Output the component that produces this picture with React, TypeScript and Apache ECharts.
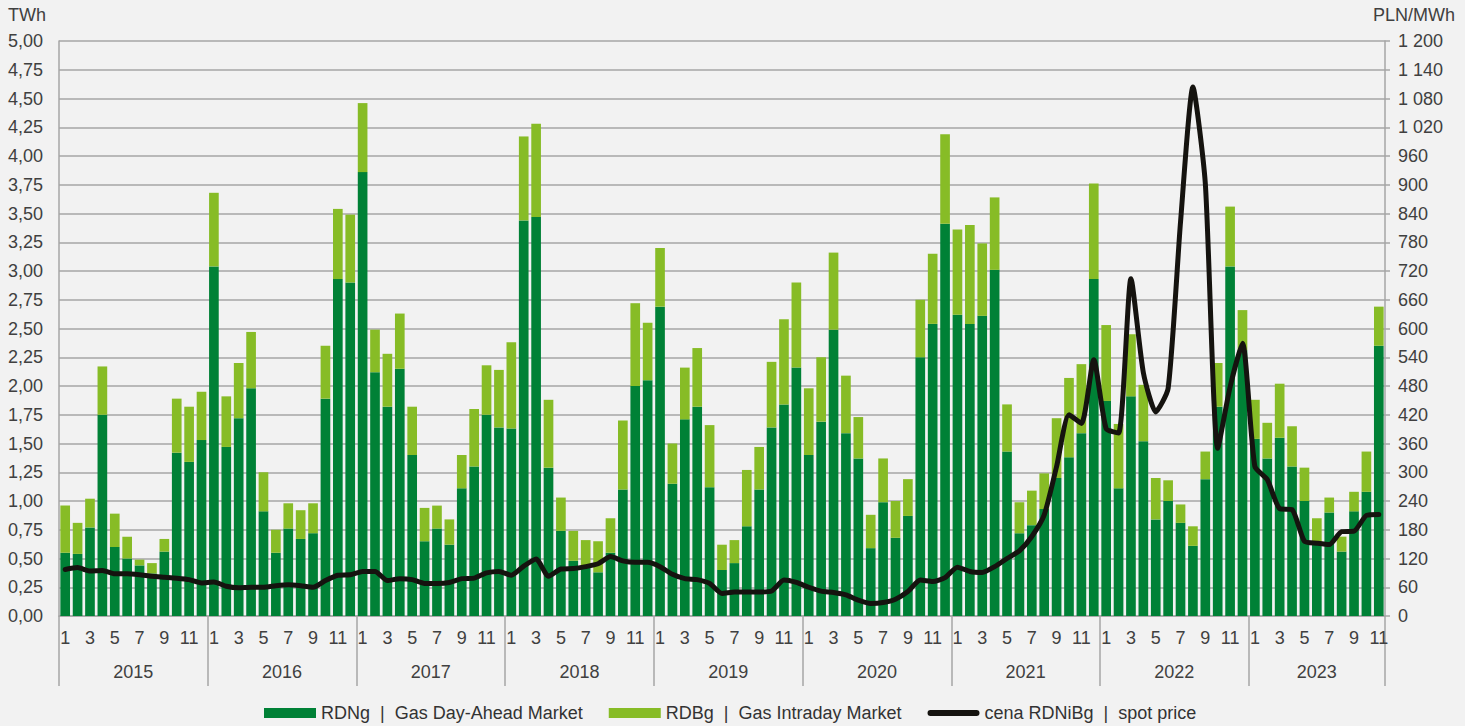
import React, { useEffect, useRef } from 'react';
import * as echarts from 'echarts';

const years = ['2015', '2016', '2017', '2018', '2019', '2020', '2021', '2022', '2023'];
const monthsPerYear = [12, 12, 12, 12, 12, 12, 12, 12, 11];

// RDNg | Gas Day-Ahead Market (TWh)
const rdng = [
  0.55, 0.54, 0.77, 1.75, 0.60, 0.50, 0.44, 0.37, 0.56, 1.42, 1.34, 1.53,
  3.04, 1.47, 1.72, 1.98, 0.91, 0.55, 0.76, 0.67, 0.72, 1.89, 2.93, 2.90,
  3.86, 2.12, 1.82, 2.15, 1.40, 0.65, 0.76, 0.62, 1.11, 1.30, 1.75, 1.64,
  1.63, 3.44, 3.47, 1.29, 0.74, 0.48, 0.43, 0.38, 0.55, 1.10, 2.00, 2.05,
  2.69, 1.15, 1.71, 1.82, 1.12, 0.40, 0.46, 0.78, 1.10, 1.64, 1.84, 2.16,
  1.40, 1.69, 2.49, 1.59, 1.37, 0.59, 0.99, 0.68, 0.87, 2.25, 2.54, 3.41,
  2.62, 2.54, 2.61, 3.01, 1.43, 0.72, 0.79, 0.93, 1.20, 1.38, 1.59, 2.93,
  1.87, 1.11, 1.91, 1.52, 0.84, 1.00, 0.81, 0.61, 1.19, 1.82, 3.04, 2.31,
  1.54, 1.37, 1.55, 1.30, 1.00, 0.62, 0.90, 0.56, 0.91, 1.08, 2.35,
];

// RDBg | Gas Intraday Market (TWh)
const rdbg = [
  0.41, 0.27, 0.25, 0.42, 0.29, 0.19, 0.05, 0.09, 0.11, 0.47, 0.48, 0.42,
  0.64, 0.44, 0.48, 0.49, 0.34, 0.20, 0.22, 0.25, 0.26, 0.46, 0.61, 0.59,
  0.60, 0.37, 0.46, 0.48, 0.42, 0.29, 0.20, 0.22, 0.29, 0.50, 0.43, 0.50,
  0.75, 0.73, 0.81, 0.59, 0.29, 0.26, 0.23, 0.27, 0.30, 0.60, 0.72, 0.50,
  0.51, 0.35, 0.45, 0.51, 0.54, 0.22, 0.20, 0.49, 0.37, 0.57, 0.74, 0.74,
  0.58, 0.56, 0.67, 0.50, 0.36, 0.29, 0.38, 0.32, 0.32, 0.50, 0.61, 0.78,
  0.74, 0.86, 0.63, 0.63, 0.41, 0.27, 0.30, 0.31, 0.52, 0.69, 0.60, 0.83,
  0.66, 0.56, 0.54, 0.49, 0.36, 0.18, 0.16, 0.17, 0.24, 0.38, 0.52, 0.35,
  0.34, 0.31, 0.47, 0.35, 0.29, 0.23, 0.13, 0.13, 0.17, 0.35, 0.34,
];

// cena RDNiBg | spot price (PLN/MWh)
const spotPrice = [
  97, 101, 94, 95, 88, 88, 86, 83, 81, 79, 76, 69,
  71, 62, 59, 60, 60, 63, 65, 63, 60, 74, 85, 86,
  93, 93, 74, 78, 76, 68, 68, 70, 78, 79, 90, 93,
  85, 104, 119, 83, 98, 99, 103, 109, 124, 115, 112, 112,
  103, 87, 78, 76, 68, 47, 50, 50, 50, 52, 75, 70,
  60, 52, 49, 44, 33, 26, 28, 35, 51, 75, 72, 80,
  102, 93, 91, 103, 120, 136, 166, 211, 312, 420, 402, 535,
  391, 382, 704, 508, 426, 475, 822, 1104, 903, 350, 478, 569,
  312, 285, 224, 222, 156, 152, 149, 176, 177, 210, 212,
];

const seriesNames = [
  'RDNg  |  Gas Day-Ahead Market',
  'RDBg  |  Gas Intraday Market',
  'cena RDNiBg  |  spot price',
];

const leftUnit = 'TWh';
const rightUnit = 'PLN/MWh';

const FONT = '"Liberation Sans", Arial, sans-serif';
const TEXT = '#404040';
const GRID = '#a6a6a6';
const LINE = '#15130f';

export default function App() {
  const ref = useRef<HTMLDivElement>(null);

  useEffect(() => {
    if (!ref.current) return;
    const chart = echarts.init(ref.current, undefined, { renderer: 'svg' });

    const categories: string[] = [];
    const boundaries: number[] = [0];
    const centers: number[] = [];
    let acc = 0;
    years.forEach((y, yi) => {
      for (let m = 1; m <= monthsPerYear[yi]; m++) categories.push(`${y}-${m}`);
      centers.push(acc + monthsPerYear[yi] / 2);
      acc += monthsPerYear[yi];
      boundaries.push(acc);
    });
    const total = acc;

    const yearOf = (v: number) => {
      for (let i = 0; i < years.length; i++) {
        if (v >= boundaries[i] && v <= boundaries[i + 1]) return years[i];
      }
      return '';
    };

    const fmtRight = (v: number) =>
      v >= 1000 ? `${Math.floor(v / 1000)} ${String(v % 1000).padStart(3, '0')}` : String(v);

    chart.setOption({
      animation: false,
      backgroundColor: '#f2f2f2',
      textStyle: { fontFamily: FONT },
      grid: { left: 59, right: 80, top: 41, bottom: 110, containLabel: false },
      legend: {
        top: 699,
        left: 259,
        itemWidth: 52,
        itemHeight: 10,
        itemGap: 26,
        symbolKeepAspect: true,
        textStyle: { fontFamily: FONT, fontSize: 18, color: '#333333' },
        data: [
          { name: seriesNames[0], icon: 'rect' },
          { name: seriesNames[1], icon: 'rect' },
          {
            name: seriesNames[2],
            icon: 'path://M3,0 L49,0 A3,3 0 0 1 49,6 L3,6 A3,3 0 0 1 3,0 Z',
            itemStyle: { color: LINE },
          },
        ],
      },
      graphic: [
        {
          type: 'text',
          left: 8,
          top: 6,
          style: { text: leftUnit, fontFamily: FONT, fontSize: 18, fill: TEXT },
        },
        {
          type: 'text',
          right: 10,
          top: 6,
          style: { text: rightUnit, fontFamily: FONT, fontSize: 18, fill: TEXT },
        },
      ],
      xAxis: [
        {
          type: 'category',
          data: categories,
          position: 'bottom',
          axisLine: { show: true, lineStyle: { color: GRID, width: 1.5 } },
          axisTick: { show: false },
          axisLabel: {
            interval: (idx: number) => idx % 2 === 0,
            formatter: (v: string) => v.split('-')[1],
            fontFamily: FONT,
            fontSize: 18,
            color: TEXT,
            margin: 13,
          },
          splitLine: { show: false },
        },
        {
          type: 'value',
          position: 'bottom',
          min: 0,
          max: total,
          axisLine: { show: false },
          axisTick: {
            show: true,
            customValues: boundaries,
            length: 70,
            lineStyle: { color: GRID, width: 1.5 },
          },
          axisLabel: {
            customValues: centers,
            formatter: (v: number) => yearOf(v),
            fontFamily: FONT,
            fontSize: 18,
            color: TEXT,
            margin: 47,
          },
          splitLine: { show: false },
        },
      ],
      yAxis: [
        {
          type: 'value',
          min: 0,
          max: 5,
          interval: 0.25,
          axisLine: { show: true, lineStyle: { color: GRID, width: 1.5 } },
          axisTick: { show: false },
          axisLabel: {
            formatter: (v: number) => v.toFixed(2).replace('.', ','),
            fontFamily: FONT,
            fontSize: 18,
            color: TEXT,
            margin: 16,
          },
          splitLine: { show: true, lineStyle: { color: GRID, width: 1.5 } },
        },
        {
          type: 'value',
          min: 0,
          max: 1200,
          interval: 60,
          position: 'right',
          axisLine: { show: true, lineStyle: { color: GRID, width: 1.5 } },
          axisTick: { show: true, inside: false, length: 5, lineStyle: { color: GRID, width: 1.5 } },
          axisLabel: {
            formatter: fmtRight,
            fontFamily: FONT,
            fontSize: 18,
            color: TEXT,
            margin: 13,
          },
          splitLine: { show: false },
        },
      ],
      series: [
        {
          name: seriesNames[0],
          type: 'bar',
          stack: 'vol',
          xAxisIndex: 0,
          yAxisIndex: 0,
          barCategoryGap: '22%',
          itemStyle: { color: '#008136' },
          data: rdng,
        },
        {
          name: seriesNames[1],
          type: 'bar',
          stack: 'vol',
          xAxisIndex: 0,
          yAxisIndex: 0,
          barCategoryGap: '22%',
          itemStyle: { color: '#87bc26' },
          data: rdbg,
        },
        {
          name: seriesNames[2],
          type: 'line',
          xAxisIndex: 0,
          yAxisIndex: 1,
          symbol: 'none',
          smooth: 0.2,
          z: 10,
          lineStyle: { color: LINE, width: 5, cap: 'round', join: 'round' },
          itemStyle: { color: LINE },
          data: spotPrice,
        },
      ],
    });

    return () => chart.dispose();
  }, []);

  return (
    <div
      ref={ref}
      style={{ position: 'fixed', left: 0, top: 0, width: 1465, height: 726 }}
    />
  );
}
